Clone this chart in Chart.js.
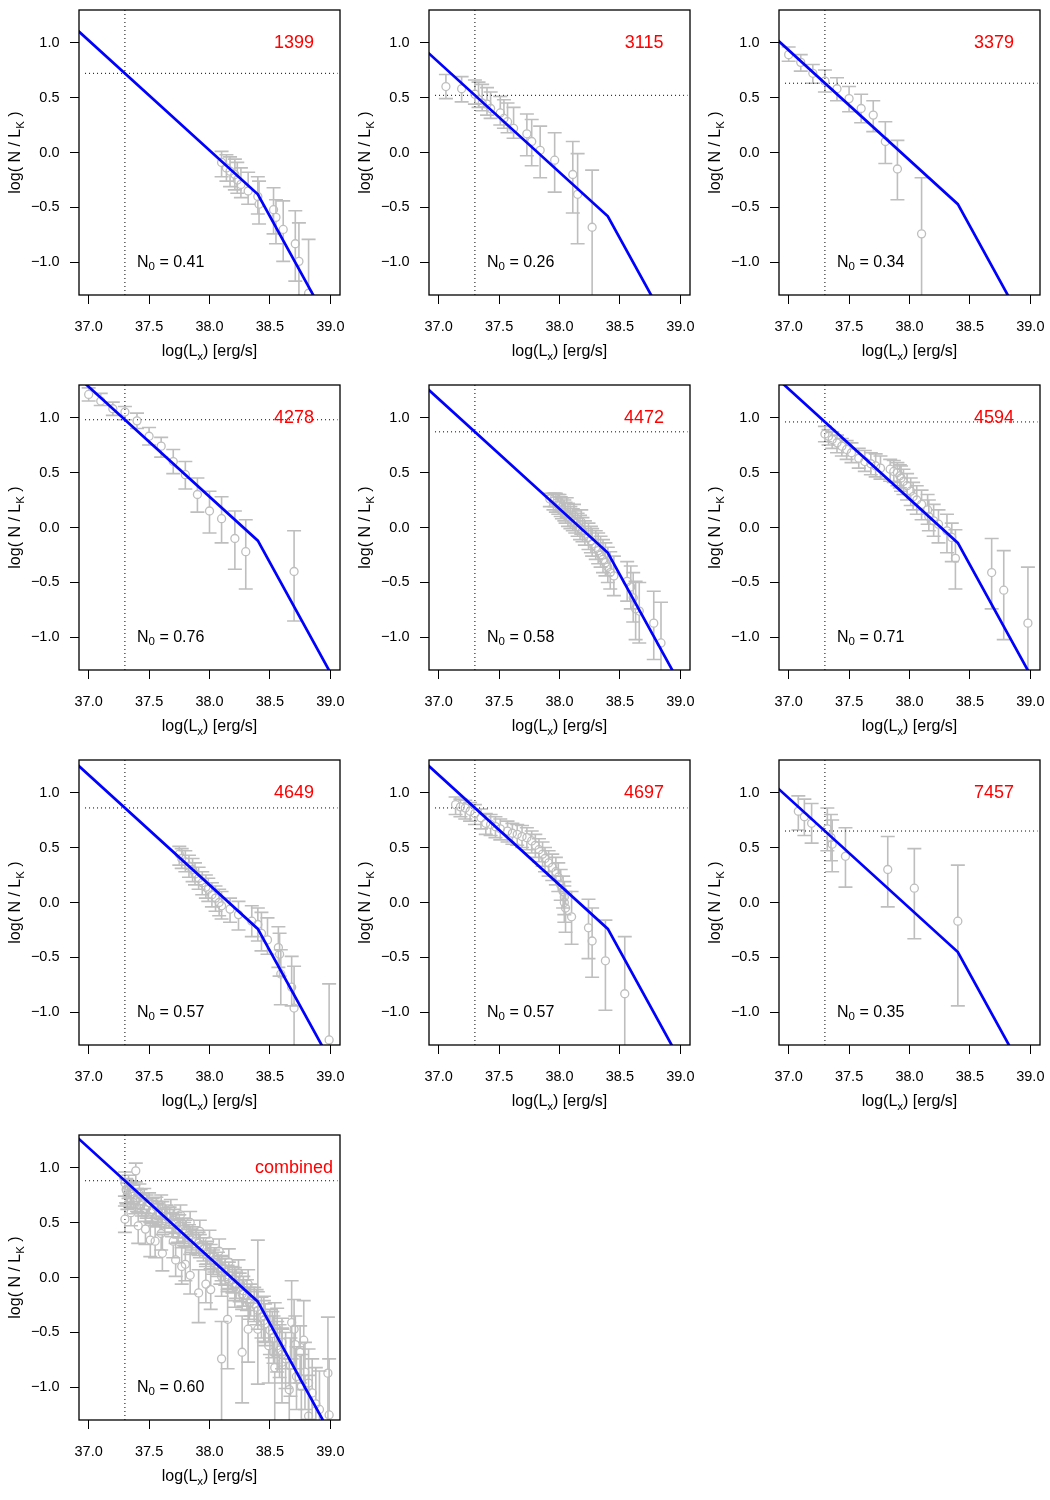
<!DOCTYPE html>
<html>
<head>
<meta charset="utf-8">
<title>XLF panels</title>
<script src="https://cdn.jsdelivr.net/npm/chart.js@4.4.1/dist/chart.umd.min.js"></script>
<style>
  body { margin: 0; background: #fff; }
  #wrap { position: relative; width: 1050px; height: 1500px; }
  #wrap canvas { position: absolute; }
</style>
</head>
<body>
<div id="wrap"></div>
<script>
// -------- DATA --------
const galaxies = ["1399", "3115", "3379", "4278", "4472", "4594", "4649", "4697", "7457", "combined"];
const n0Labels = ["0.41", "0.26", "0.34", "0.76", "0.58", "0.71", "0.57", "0.57", "0.35", "0.60"];

const xTicks = [37.0, 37.5, 38.0, 38.5, 39.0];
const yTicks = [-1.0, -0.5, 0.0, 0.5, 1.0];

// completeness limit (vertical dotted line) and fitted level there (horizontal dotted line)
const limitLx = 37.3;
const limitLevel = [0.72, 0.52, 0.63, 0.98, 0.87, 0.96, 0.86, 0.86, 0.65, 0.88];

// broken power-law fit: vertices at these log(Lx)
const fitX = [36.9, 38.4, 39.1];
const fit1399 = [1.12, -0.38, -1.78];
const fit3115 = [0.92, -0.58, -1.98];
const fit3379 = [1.03, -0.47, -1.87];
const fit4278 = [1.38, -0.12, -1.52];
const fit4472 = [1.27, -0.23, -1.63];
const fit4594 = [1.36, -0.14, -1.54];
const fit4649 = [1.26, -0.24, -1.64];
const fit4697 = [1.26, -0.24, -1.64];
const fit7457 = [1.05, -0.45, -1.85];
const fitAll  = [1.28, -0.22, -1.62];

// measured points: [log Lx, log N/LK, lower, upper]
const pts1399 = [
  [38.10,-0.09,-0.22,0.01],[38.14,-0.14,-0.26,-0.02],[38.17,-0.17,-0.31,-0.04],
  [38.21,-0.20,-0.34,-0.06],[38.23,-0.25,-0.37,-0.09],[38.26,-0.29,-0.41,-0.14],
  [38.32,-0.35,-0.47,-0.18],[38.40,-0.40,-0.56,-0.22],[38.41,-0.47,-0.65,-0.26],
  [38.53,-0.52,-0.74,-0.32],[38.55,-0.59,-0.83,-0.43],[38.61,-0.70,-0.99,-0.44],
  [38.71,-0.83,-1.17,-0.53],[38.74,-0.99,-1.40,-0.64],[38.82,-1.28,-1.50,-0.79]
];
const pts3115 = [
  [37.06,0.60,0.49,0.71],[37.19,0.58,0.46,0.69],[37.30,0.53,0.44,0.66],
  [37.33,0.48,0.41,0.64],[37.36,0.45,0.38,0.62],[37.40,0.44,0.34,0.59],
  [37.43,0.40,0.31,0.55],[37.51,0.36,0.25,0.51],[37.54,0.31,0.22,0.48],
  [37.57,0.28,0.18,0.45],[37.62,0.22,0.13,0.41],[37.73,0.17,-0.03,0.35],
  [37.77,0.10,-0.12,0.30],[37.84,0.02,-0.23,0.24],[37.96,-0.07,-0.36,0.18],
  [38.11,-0.20,-0.55,0.10],[38.15,-0.38,-0.83,-0.01],[38.27,-0.68,-1.40,-0.16]
];
const pts3379 = [
  [37.00,0.89,0.83,0.96],[37.10,0.82,0.74,0.89],[37.20,0.72,0.63,0.80],
  [37.30,0.65,0.55,0.75],[37.40,0.58,0.47,0.68],[37.50,0.49,0.37,0.60],
  [37.60,0.40,0.27,0.53],[37.70,0.34,0.19,0.47],[37.80,0.10,-0.10,0.28],
  [37.90,-0.15,-0.43,0.11],[38.10,-0.74,-1.40,-0.23]
];
const pts4278 = [
  [37.00,1.21,1.15,1.27],[37.10,1.15,1.11,1.22],[37.20,1.08,1.02,1.14],
  [37.30,1.05,0.98,1.10],[37.40,0.97,0.90,1.04],[37.50,0.83,0.75,0.91],
  [37.60,0.74,0.64,0.82],[37.70,0.60,0.49,0.71],[37.80,0.48,0.35,0.60],
  [37.90,0.30,0.14,0.45],[38.00,0.15,-0.05,0.33],[38.10,0.08,-0.14,0.28],
  [38.21,-0.10,-0.38,0.15],[38.30,-0.22,-0.56,0.07],[38.70,-0.40,-0.85,-0.03]
];
const pts4472 = [
  [37.95,0.24,0.16,0.31],[37.97,0.22,0.14,0.31],[37.99,0.20,0.12,0.30],
  [38.01,0.18,0.10,0.28],[38.02,0.16,0.08,0.27],[38.04,0.14,0.06,0.25],
  [38.05,0.12,0.04,0.23],[38.07,0.10,0.01,0.22],[38.09,0.08,-0.01,0.19],
  [38.11,0.06,-0.03,0.17],[38.13,0.04,-0.05,0.15],[38.15,0.01,-0.08,0.13],
  [38.17,-0.01,-0.11,0.11],[38.19,-0.03,-0.13,0.09],[38.21,-0.06,-0.16,0.06],
  [38.24,-0.09,-0.20,0.04],[38.26,-0.12,-0.23,0.01],[38.27,-0.15,-0.26,-0.01],
  [38.30,-0.18,-0.29,-0.03],[38.32,-0.21,-0.33,-0.05],[38.34,-0.25,-0.36,-0.08],
  [38.36,-0.29,-0.41,-0.11],[38.38,-0.32,-0.44,-0.14],[38.40,-0.36,-0.50,-0.18],
  [38.42,-0.41,-0.56,-0.22],[38.45,-0.44,-0.62,-0.26],[38.56,-0.49,-0.67,-0.31],
  [38.59,-0.54,-0.74,-0.35],[38.61,-0.64,-0.86,-0.41],[38.63,-0.74,-1.02,-0.49],
  [38.66,-0.76,-1.05,-0.50],[38.78,-0.87,-1.20,-0.58],[38.84,-1.05,-1.33,-0.68],
  [37.92,0.26,0.19,0.31],[37.96,0.27,0.19,0.31],[38.00,0.23,0.15,0.30],
  [38.06,0.18,0.09,0.27],[38.12,0.11,0.01,0.21],[38.18,0.05,-0.06,0.16]
];
const pts4594 = [
  [37.30,0.85,0.78,0.92],[37.33,0.83,0.75,0.89],[37.36,0.80,0.72,0.87],
  [37.40,0.77,0.68,0.84],[37.44,0.74,0.65,0.81],[37.48,0.71,0.62,0.79],
  [37.52,0.68,0.59,0.77],[37.58,0.63,0.54,0.72],[37.63,0.60,0.51,0.70],
  [37.68,0.58,0.48,0.68],[37.72,0.56,0.46,0.67],[37.76,0.54,0.44,0.65],
  [37.84,0.53,0.42,0.62],[37.87,0.51,0.41,0.61],[37.90,0.50,0.38,0.59],
  [37.92,0.47,0.36,0.57],[37.93,0.45,0.33,0.56],[37.95,0.42,0.30,0.53],
  [37.98,0.38,0.25,0.49],[38.01,0.33,0.20,0.45],[38.03,0.28,0.16,0.41],
  [38.06,0.25,0.12,0.38],[38.10,0.21,0.07,0.34],[38.15,0.16,0.03,0.30],
  [38.16,0.10,-0.03,0.25],[38.20,0.06,-0.08,0.21],[38.24,0.03,-0.14,0.16],
  [38.31,-0.03,-0.23,0.12],[38.35,-0.09,-0.31,0.04],[38.38,-0.28,-0.56,-0.02],
  [38.68,-0.41,-0.74,-0.10],[38.78,-0.57,-1.02,-0.21],[38.98,-0.87,-1.40,-0.36]
];
const pts4649 = [
  [37.75,0.44,0.34,0.51],[37.77,0.40,0.31,0.49],[37.80,0.37,0.28,0.47],
  [37.83,0.33,0.23,0.43],[37.86,0.30,0.19,0.40],[37.88,0.26,0.16,0.36],
  [37.91,0.22,0.12,0.32],[37.94,0.18,0.07,0.28],[37.97,0.14,0.04,0.25],
  [37.99,0.12,0.01,0.22],[38.02,0.07,-0.04,0.18],[38.05,0.04,-0.08,0.15],
  [38.08,0.00,-0.12,0.12],[38.10,-0.03,-0.15,0.10],[38.17,-0.06,-0.18,0.04],
  [38.24,-0.11,-0.25,0.01],[38.35,-0.17,-0.31,-0.03],[38.40,-0.20,-0.35,-0.05],
  [38.43,-0.28,-0.44,-0.09],[38.48,-0.34,-0.47,-0.14],[38.57,-0.41,-0.59,-0.22],
  [38.58,-0.47,-0.67,-0.28],[38.59,-0.65,-0.93,-0.43],[38.68,-0.77,-0.94,-0.49],
  [38.70,-0.96,-1.40,-0.58],[38.99,-1.25,-1.40,-0.74]
];
const pts4697 = [
  [37.14,0.89,0.80,0.96],[37.18,0.87,0.78,0.94],[37.22,0.86,0.76,0.93],
  [37.26,0.83,0.74,0.91],[37.30,0.81,0.71,0.89],[37.35,0.77,0.67,0.85],
  [37.39,0.72,0.62,0.81],[37.43,0.71,0.61,0.80],[37.47,0.69,0.59,0.78],
  [37.51,0.67,0.57,0.76],[37.57,0.65,0.55,0.74],[37.61,0.63,0.53,0.72],
  [37.65,0.62,0.52,0.71],[37.69,0.60,0.50,0.70],[37.73,0.59,0.48,0.68],
  [37.77,0.56,0.45,0.65],[37.80,0.52,0.41,0.62],[37.83,0.48,0.37,0.58],
  [37.86,0.44,0.33,0.55],[37.88,0.40,0.28,0.50],[37.91,0.36,0.24,0.47],
  [37.94,0.32,0.20,0.44],[37.97,0.28,0.16,0.41],[37.99,0.23,0.10,0.36],
  [38.01,0.16,0.02,0.30],[38.03,0.10,-0.05,0.24],[38.04,0.05,-0.11,0.19],
  [38.04,0.00,-0.18,0.15],[38.05,-0.05,-0.27,0.10],[38.10,-0.13,-0.38,0.10],
  [38.24,-0.23,-0.51,0.03],[38.27,-0.35,-0.68,-0.05],[38.38,-0.53,-0.98,-0.16],
  [38.54,-0.83,-1.40,-0.31]
];
const pts7457 = [
  [37.08,0.83,0.66,0.97],[37.13,0.78,0.61,0.94],[37.19,0.72,0.54,0.90],
  [37.32,0.67,0.47,0.86],[37.35,0.59,0.38,0.80],[37.36,0.53,0.28,0.75],
  [37.47,0.42,0.14,0.68],[37.82,0.30,-0.04,0.60],[38.04,0.13,-0.33,0.49],
  [38.40,-0.17,-0.94,0.34]
];
const ptsAll = [
  [37.30,0.86,0.74,0.96],[37.31,0.80,0.68,0.90],[37.32,0.75,0.62,0.86],
  [37.33,0.83,0.72,0.93],[37.35,0.78,0.67,0.88],[37.37,0.74,0.63,0.84],
  [37.39,0.97,0.87,1.04],[37.40,0.71,0.60,0.81],[37.42,0.76,0.66,0.85],
  [37.44,0.67,0.56,0.77],[37.46,0.72,0.62,0.81],[37.48,0.65,0.54,0.75],
  [37.50,0.68,0.58,0.77],[37.53,0.62,0.51,0.72],[37.56,0.64,0.54,0.73],
  [37.58,0.59,0.48,0.69],[37.61,0.60,0.50,0.69],[37.64,0.56,0.45,0.66],
  [37.67,0.55,0.45,0.64],[37.70,0.52,0.41,0.62],[37.72,0.50,0.40,0.59],
  [37.75,0.47,0.36,0.57],[37.78,0.44,0.33,0.54],[37.80,0.42,0.31,0.52],
  [37.83,0.38,0.27,0.48],[37.86,0.36,0.25,0.46],[37.89,0.33,0.22,0.43],
  [37.92,0.29,0.18,0.39],[37.95,0.26,0.15,0.36],[37.98,0.23,0.12,0.33],
  [38.01,0.19,0.08,0.30],[38.04,0.16,0.05,0.27],[38.07,0.12,0.01,0.23],
  [38.10,0.09,-0.03,0.20],[38.13,0.05,-0.07,0.17],[38.16,0.02,-0.10,0.14],
  [38.19,-0.02,-0.14,0.10],[38.22,-0.06,-0.19,0.07],[38.25,-0.09,-0.22,0.04],
  [38.28,-0.12,-0.26,0.01],[38.31,-0.16,-0.30,-0.02],[38.34,-0.20,-0.35,-0.06],
  [38.37,-0.24,-0.40,-0.09],[38.40,-0.30,-0.47,-0.13],[38.43,-0.36,-0.55,-0.18],
  [38.46,-0.42,-0.62,-0.24],[38.50,-0.48,-0.70,-0.29],[38.53,-0.55,-0.78,-0.35],
  [38.56,-0.62,-0.86,-0.40],[38.60,-0.70,-0.96,-0.46],
  [37.315,0.79,0.67,0.89],[37.345,0.76,0.64,0.86],[37.385,0.70,0.58,0.80],
  [37.43,0.70,0.59,0.80],[37.47,0.62,0.51,0.72],[37.52,0.60,0.49,0.70],
  [37.57,0.57,0.46,0.67],[37.63,0.52,0.41,0.62],[37.69,0.48,0.37,0.58],
  [37.74,0.43,0.32,0.53],[37.79,0.40,0.29,0.50],[37.85,0.34,0.23,0.44],
  [37.91,0.31,0.20,0.41],[37.97,0.21,0.10,0.31],[38.03,0.14,0.03,0.25],
  [38.09,0.06,-0.06,0.17],[38.15,-0.01,-0.13,0.11],[38.21,-0.08,-0.21,0.05],
  [38.27,-0.15,-0.29,-0.02],[38.33,-0.23,-0.38,-0.09],[38.39,-0.27,-0.43,-0.11],
  [38.45,-0.39,-0.58,-0.21],[38.52,-0.51,-0.73,-0.31],[38.58,-0.66,-0.91,-0.43],
  [38.63,-0.74,-1.01,-0.50],[38.67,-0.80,-1.08,-0.55],[38.72,-0.90,-1.20,-0.63],
  [38.76,-0.99,-1.30,-0.70],[38.88,-1.15,-1.40,-0.82],[38.91,-1.20,-1.40,-0.85],
  [37.60,0.66,0.56,0.75],[37.68,0.62,0.52,0.71],[37.76,0.57,0.47,0.66],
  [37.84,0.50,0.39,0.60],[37.92,0.42,0.31,0.52],[38.00,0.33,0.22,0.43],
  [38.08,0.24,0.12,0.35],[38.16,0.14,0.02,0.26],[38.24,0.04,-0.09,0.16],
  [38.32,-0.06,-0.20,0.07],
  [37.30,0.53,0.41,0.65],[37.35,0.59,0.47,0.69],[37.41,0.47,0.31,0.59],
  [37.47,0.44,0.30,0.56],[37.51,0.34,0.19,0.50],[37.55,0.33,0.18,0.47],
  [37.60,0.40,0.25,0.53],[37.61,0.22,0.06,0.39],[37.70,0.33,0.18,0.47],
  [37.72,0.16,0.01,0.31],[37.77,0.10,-0.06,0.27],[37.80,0.12,-0.03,0.28],
  [37.84,0.02,-0.15,0.21],[37.91,-0.14,-0.41,0.07],[37.97,-0.06,-0.23,0.12],
  [38.01,-0.11,-0.29,0.07],[38.10,-0.74,-1.35,-0.40],[38.15,-0.38,-0.83,-0.11],
  [38.10,0.01,-0.17,0.19],[38.21,-0.08,-0.27,0.09],[38.27,-0.68,-1.14,-0.35],
  [38.32,-0.47,-0.77,-0.23],[38.40,-0.47,-0.97,0.34],[38.45,-0.35,-0.59,-0.17],
  [38.49,-0.62,-0.96,-0.35],[38.54,-0.82,-1.33,-0.23],[38.56,-0.47,-0.71,-0.28],
  [38.60,-0.59,-0.83,-0.37],[38.60,-0.77,-1.14,-0.47],[38.66,-1.02,-1.32,-0.74],
  [38.68,-0.41,-0.74,-0.03],[38.70,-0.47,-0.83,-0.20],[38.71,-0.61,-0.96,-0.35],
  [38.75,-0.68,-0.96,-0.44],[38.78,-0.57,-1.02,-0.21],[38.79,-0.86,-1.20,-0.59],
  [38.82,-0.96,-1.29,-0.65],[38.82,-1.26,-1.40,-0.89],[38.85,-1.05,-1.32,-0.74],
  [38.98,-0.87,-1.40,-0.36],[38.99,-1.25,-1.40,-0.74]
];

const fitLines = [fit1399, fit3115, fit3379, fit4278, fit4472, fit4594, fit4649, fit4697, fit7457, fitAll];
const panelPoints = [pts1399, pts3115, pts3379, pts4278, pts4472, pts4594, pts4649, pts4697, pts7457, ptsAll];

// -------- STYLE --------
const FONT = "'Liberation Sans', Arial, Helvetica, sans-serif";
const GREY = "#bebebe";
const X_MIN = 36.92, X_MAX = 39.08;
const Y_MIN = -1.296, Y_MAX = 1.296;
const TICK_LEN = 9;

Chart.defaults.font.family = FONT;
Chart.defaults.color = "#000";

const fmt = v => v.toFixed(1).replace("-", "\u2212");

// text with a subscript piece, drawn left to right from x
function drawRich(ctx, parts, x, y, size) {
    let cx = x;
    parts.forEach(p => {
        const s = p.sub ? size * 0.72 : size;
        ctx.font = s + "px " + FONT;
        ctx.fillText(p.t, cx, p.sub ? y + size * 0.28 : y);
        cx += ctx.measureText(p.t).width;
    });
    return cx - x;
}
function richWidth(ctx, parts, size) {
    let w = 0;
    parts.forEach(p => {
        ctx.font = (p.sub ? size * 0.72 : size) + "px " + FONT;
        w += ctx.measureText(p.t).width;
    });
    return w;
}

// error bars (drawn under the circles, with a gap round each point)
const errorBars = {
    id: "errorBars",
    beforeDatasetsDraw(chart) {
        const ds = chart.data.datasets.find(d => d.errLo);
        if (!ds) return;
        const xs = chart.scales.x, ys = chart.scales.y, a = chart.chartArea, ctx = chart.ctx;
        const gap = 4, cap = 7;
        ctx.save();
        ctx.beginPath();
        ctx.rect(a.left, a.top, a.right - a.left, a.bottom - a.top);
        ctx.clip();
        ctx.strokeStyle = GREY;
        ctx.lineWidth = 1.6;
        ds.data.forEach((p, k) => {
            const px = xs.getPixelForValue(p.x), py = ys.getPixelForValue(p.y);
            const top = ys.getPixelForValue(ds.errHi[k]);
            const bot = ys.getPixelForValue(ds.errLo[k]);
            ctx.beginPath();
            if (py - gap > top) { ctx.moveTo(px, top); ctx.lineTo(px, py - gap); }
            if (bot > py + gap) { ctx.moveTo(px, py + gap); ctx.lineTo(px, bot); }
            ctx.moveTo(px - cap, top); ctx.lineTo(px + cap, top);
            ctx.moveTo(px - cap, bot); ctx.lineTo(px + cap, bot);
            ctx.stroke();
        });
        ctx.restore();
    }
};

// box, tick labels, axis titles and panel labels
const decorations = {
    id: "decorations",
    afterDraw(chart) {
        const ctx = chart.ctx, a = chart.chartArea;
        const xs = chart.scales.x, ys = chart.scales.y;
        const i = chart.options.plugins.decorations.index;
        ctx.save();
        ctx.strokeStyle = "#000";
        ctx.lineWidth = 1.3;
        ctx.strokeRect(a.left, a.top, a.right - a.left, a.bottom - a.top);

        ctx.fillStyle = "#000";
        ctx.textBaseline = "middle";

        // tick labels
        ctx.font = "14.5px " + FONT;
        ctx.textAlign = "center";
        xTicks.forEach(v => ctx.fillText(fmt(v), xs.getPixelForValue(v), a.bottom + 31.5));
        ctx.textAlign = "right";
        yTicks.forEach(v => ctx.fillText(fmt(v), a.left - TICK_LEN - 10.5, ys.getPixelForValue(v)));

        ctx.textAlign = "left";
        // x title
        const xt = [{ t: "log(L" }, { t: "x", sub: true }, { t: ") [erg/s]" }];
        const xw = richWidth(ctx, xt, 16);
        drawRich(ctx, xt, (a.left + a.right) / 2 - xw / 2, a.bottom + 57, 16);

        // y title (rotated)
        const yt = [{ t: "log( N / L" }, { t: "K", sub: true }, { t: " )" }];
        const yw = richWidth(ctx, yt, 16);
        ctx.save();
        ctx.translate(16, (a.top + a.bottom) / 2);
        ctx.rotate(-Math.PI / 2);
        drawRich(ctx, yt, -yw / 2, 0, 16);
        ctx.restore();

        // N0 label
        drawRich(ctx, [{ t: "N" }, { t: "0", sub: true }, { t: " = " + n0Labels[i] }],
            xs.getPixelForValue(37.4), ys.getPixelForValue(-1.0), 16);

        // galaxy name
        ctx.fillStyle = "#ff0000";
        ctx.textAlign = "center";
        ctx.font = "18px " + FONT;
        ctx.fillText(galaxies[i], xs.getPixelForValue(38.7), ys.getPixelForValue(1.0));
        ctx.restore();
    }
};

// -------- PANELS --------
const wrap = document.getElementById("wrap");

galaxies.forEach((name, i) => {
    const cv = document.createElement("canvas");
    cv.width = 350;
    cv.height = 375;
    cv.style.left = (350 * (i % 3)) + "px";
    cv.style.top = (375 * Math.floor(i / 3)) + "px";
    wrap.appendChild(cv);

    const pts = panelPoints[i];
    const level = limitLevel[i];

    const axisCommon = {
        type: "linear",
        border: { display: false },
        grid: { drawOnChartArea: false, drawTicks: true, tickLength: TICK_LEN, color: "#000", lineWidth: 1 },
        ticks: { display: false, autoSkip: false }
    };

    new Chart(cv, {
        type: "scatter",
        data: {
            datasets: [
                {
                    type: "line",
                    data: fitX.map((x, k) => ({ x: x, y: fitLines[i][k] })),
                    borderColor: "#0000ff",
                    borderWidth: 2.7,
                    pointRadius: 0,
                    tension: 0,
                    fill: false,
                    order: 0
                },
                {
                    data: pts.map(p => ({ x: p[0], y: p[1] })),
                    errLo: pts.map(p => p[2]),
                    errHi: pts.map(p => p[3]),
                    pointStyle: "circle",
                    pointRadius: 4,
                    borderColor: GREY,
                    backgroundColor: "rgba(0,0,0,0)",
                    borderWidth: 1.3,
                    order: 1
                },
                {
                    type: "line",
                    data: [{ x: limitLx, y: Y_MIN }, { x: limitLx, y: Y_MAX }],
                    borderColor: "#000",
                    borderWidth: 1,
                    borderDash: [1, 3],
                    pointRadius: 0,
                    order: 2
                },
                {
                    type: "line",
                    data: [{ x: 36.97, y: level }, { x: 39.06, y: level }],
                    borderColor: "#000",
                    borderWidth: 1,
                    borderDash: [1, 3],
                    pointRadius: 0,
                    order: 2
                }
            ]
        },
        options: {
            responsive: false,
            animation: false,
            events: [],
            layout: { padding: { top: 10, right: 10, left: 0, bottom: 0 } },
            plugins: {
                legend: { display: false },
                tooltip: { enabled: false },
                decorations: { index: i }
            },
            scales: {
                x: Object.assign({}, axisCommon, {
                    min: X_MIN,
                    max: X_MAX,
                    afterBuildTicks: s => { s.ticks = xTicks.map(v => ({ value: v })); },
                    afterFit: s => { s.height = 80; }
                }),
                y: Object.assign({}, axisCommon, {
                    min: Y_MIN,
                    max: Y_MAX,
                    afterBuildTicks: s => { s.ticks = yTicks.map(v => ({ value: v })); },
                    afterFit: s => { s.width = 79; }
                })
            }
        },
        plugins: [errorBars, decorations]
    });
});
</script>
</body>
</html>
